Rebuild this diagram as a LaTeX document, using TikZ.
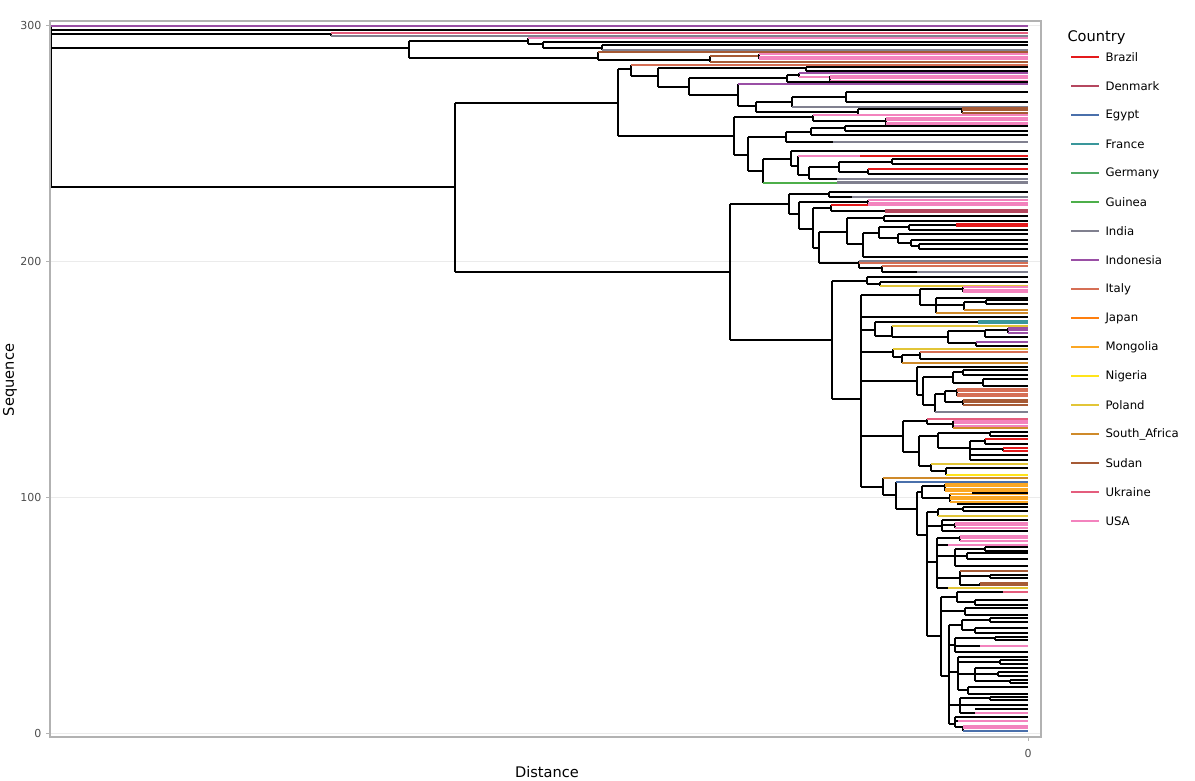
\documentclass[tikz,border=0pt]{standalone}
\usepackage{fontspec}
\setmainfont{DejaVu Sans}

\definecolor{cBrazil}{HTML}{E41A1C}
\definecolor{cDenmark}{HTML}{B5475F}
\definecolor{cEgypt}{HTML}{4A70AB}
\definecolor{cFrance}{HTML}{3A979B}
\definecolor{cGermany}{HTML}{4FA862}
\definecolor{cGuinea}{HTML}{4DAF4A}
\definecolor{cIndia}{HTML}{80808F}
\definecolor{cIndonesia}{HTML}{9A4FA5}
\definecolor{cItaly}{HTML}{D66F55}
\definecolor{cJapan}{HTML}{FF7F0E}
\definecolor{cMongolia}{HTML}{FBA724}
\definecolor{cNigeria}{HTML}{FFE41A}
\definecolor{cPoland}{HTML}{E2C537}
\definecolor{cSouthAfrica}{HTML}{CF8A2A}
\definecolor{cSudan}{HTML}{A65A35}
\definecolor{cUkraine}{HTML}{E45D7D}
\definecolor{cUSA}{HTML}{F383BE}
\definecolor{axisgray}{HTML}{4D4D4D}

\tikzset{
  br/.style={line width=2pt, draw=black},
  tipc/.style={line width=2pt},
  grid/.style={draw=black!8, line width=0.6pt},
  tick/.style={font=\fontsize{11}{13}\selectfont, text=axisgray},
  legtext/.style={anchor=west, font=\fontsize{11.7}{14}\selectfont}
}

% tree pieces, all in pixel units (y rounded to whole pixels)
\newcommand{\vln}[3]{\draw[br] (#1,{round(#2)}) -- (#1,{round(#3)});}
\newcommand{\hln}[4][black]{\draw[br,draw=#1] (#2,{round(#4)}) -- (#3,{round(#4)});}
\newcommand{\lfn}[3][black]{\draw[br,tipc,draw=#1] (#2,{round(#3)}) -- (1028,{round(#3)});}
\newcommand{\bnd}[4]{%
  \draw[br] (#1,{round(#2)}) -- (#1,{round(#2+(#3-1)*2.5)});
  \foreach \k in {1,...,#3}{\draw[br,tipc,draw=#4] (#1,{round(#2+(\k-1)*2.5)}) -- (1028,{round(#2+(\k-1)*2.5)});}}

\begin{document}
\begin{tikzpicture}[x=1pt,y=-1pt]
	\useasboundingbox (0,0) rectangle (1195,781);

	% panel
	\draw[grid] (50,261) -- (1041,261);
	\draw[grid] (50,497) -- (1041,497);
	\draw[grid] (50,733) -- (1041,733);
	\draw[grid] (50,25) -- (1041,25);

	% root and top leaves
	\vln{51}{26}{187}
	\lfn[cIndonesia]{51}{26}
	\lfn{51}{29.5}
	\hln{51}{331}{34}
	\vln{331}{33}{36}
	\lfn[cUkraine]{331}{33}
	\lfn[cIndia]{331}{36}

	% clade at 290
	\hln{51}{409}{47.5}
	\vln{409}{41}{57.5}
	\hln{409}{528}{41}
	\vln{528}{37.5}{44}
	\lfn[cUSA]{528}{38}
	\hln{528}{543}{44}
	\vln{543}{41.5}{47.5}
	\lfn{543}{41.5}
	\hln{543}{602}{47.5}
	\vln{602}{45}{49.5}
	\lfn{602}{45}
	\lfn[cIndia]{602}{49.5}
	\hln{409}{598}{57.5}
	\vln{598}{52}{60}
	\lfn[cSudan]{598}{52}
	\hln{598}{710}{60}
	\vln{710}{56}{62}
	\hln[cSudan]{710}{759}{56}
	\bnd{759}{54}{3}{cUSA}
	\lfn[cSudan]{710}{62}

	% main split
	\hln{51}{455}{187}
	\vln{455}{103}{272}

	% upper clade
	\hln{455}{618}{103}
	\vln{618}{69}{136}
	\hln{618}{631}{69}
	\vln{631}{64.5}{76}
	\lfn[cItaly]{631}{64.5}
	\hln{631}{658}{76}
	\vln{658}{68}{86.7}
	\hln{658}{806}{68}
	\vln{806}{66.5}{70.5}
	\lfn{806}{66.5}
	\lfn{806}{70.5}
	\hln{658}{689}{86.7}
	\vln{689}{78.3}{95}
	\hln{689}{787}{78.3}
	\vln{787}{75}{81.5}
	\hln{787}{799}{75}
	\vln{799}{73}{77}
	\lfn[cIndonesia]{799}{73}
	\hln[cUSA]{799}{830}{77}
	\bnd{830}{75.5}{3}{cUSA}
	\lfn{787}{81.5}
	\hln{689}{738}{95}
	\vln{738}{84.3}{106}
	\lfn[cIndonesia]{738}{84.3}
	\hln{738}{756}{106}
	\vln{756}{101.7}{111.7}
	\hln{756}{792}{101.7}
	\vln{792}{97.3}{106.7}
	\hln{792}{846}{97.3}
	\vln{846}{92.3}{101.7}
	\lfn{846}{92.3}
	\lfn{846}{101.7}
	\lfn[cIndia]{792}{106.7}
	\hln{756}{858}{111.7}
	\vln{858}{109}{114.5}
	\hln{858}{962}{109}
	\bnd{962}{107.5}{3}{cSudan}
	\lfn[cSudan]{858}{114.5}
	\hln{618}{734}{136}
	\vln{734}{117}{155}
	\hln{734}{813}{117}
	\vln{813}{114.5}{121}
	\lfn[cUSA]{813}{114.5}
	\hln{813}{886}{121}
	\bnd{886}{117.5}{4}{cUSA}
	\hln{734}{748}{155}
	\vln{748}{137.3}{170.7}
	\hln{748}{786}{137.3}
	\vln{786}{131.7}{141.7}
	\hln{786}{811}{131.7}
	\vln{811}{128.3}{135}
	\hln{811}{845}{128.3}
	\vln{845}{126}{130.7}
	\lfn{845}{126}
	\lfn{845}{130.7}
	\lfn{811}{135}
	\hln{786}{833}{141.7}
	\lfn[cIndia]{833}{141.7}
	\hln{748}{763}{170.7}
	\vln{763}{158.7}{183.3}
	\hln{763}{791}{158.7}
	\vln{791}{150.7}{166}
	\lfn{791}{150.7}
	\hln{791}{798}{166}
	\vln{798}{156}{175}
	\hln[cUSA]{798}{860}{156}
	\lfn[cBrazil]{860}{156}
	\hln{798}{809}{175}
	\vln{809}{166.7}{179}
	\hln{809}{839}{166.7}
	\vln{839}{161.7}{171.7}
	\hln{839}{892}{161.7}
	\vln{892}{159.3}{164}
	\lfn{892}{159.3}
	\lfn{892}{164}
	\hln{839}{868}{171.7}
	\vln{868}{169}{174}
	\lfn[cBrazil]{868}{169}
	\lfn{868}{174}
	\hln{809}{837}{179}
	\lfn[cIndia]{837}{179}
	\hln[cGuinea]{763}{837}{183.3}
	\lfn[cIndia]{837}{181.5}
	\lfn[cIndia]{837}{183.3}

	% lower clade
	\hln{455}{730}{272}
	\vln{730}{204.3}{340.3}
	\hln{730}{789}{204.3}
	\vln{789}{194.3}{214.3}
	\hln{789}{829}{194.3}
	\vln{829}{192.3}{196.7}
	\lfn{829}{192.3}
	\hln{829}{852}{196.7}
	\lfn[cIndia]{852}{196.7}
	\hln{789}{799}{214.3}
	\vln{799}{201.7}{229.3}
	\hln{799}{868}{201.7}
	\bnd{868}{200}{3}{cUSA}
	\hln{799}{813}{229.3}
	\vln{813}{208}{248.3}
	\hln{813}{831}{208}
	\vln{831}{205}{211}
	\hln[cBrazil]{831}{868}{205}
	\hln{831}{885}{211}
	\bnd{885}{209.5}{2}{cDenmark}
	\hln{813}{819}{248.3}
	\vln{819}{231.7}{263.3}
	\hln{819}{847}{231.7}
	\vln{847}{218.3}{244.3}
	\hln{847}{884}{218.3}
	\vln{884}{216}{220.5}
	\lfn{884}{216}
	\lfn{884}{220.5}
	\hln{847}{863}{244.3}
	\vln{863}{232.7}{257.3}
	\hln{863}{879}{232.7}
	\vln{879}{227.3}{238.3}
	\hln{879}{909}{227.3}
	\vln{909}{224.7}{230}
	\hln{909}{956}{224.7}
	\bnd{956}{223.5}{2}{cBrazil}
	\lfn{909}{230}
	\hln{879}{898}{238.3}
	\vln{898}{234.3}{243}
	\lfn{898}{234.3}
	\hln{898}{911}{243}
	\vln{911}{239.5}{246}
	\lfn{911}{239.5}
	\hln{911}{919}{246}
	\vln{919}{244}{248.5}
	\lfn{919}{244}
	\lfn{919}{248.5}
	\lfn{863}{257.3}
	\hln{819}{859}{263.3}
	\vln{859}{261}{268.3}
	\lfn[cIndia]{859}{261}
	\lfn[cItaly]{859}{263.3}
	\hln{859}{882}{268.3}
	\vln{882}{266.3}{271.5}
	\lfn[cItaly]{882}{266.3}
	\hln{882}{917}{271.5}
	\lfn[cIndia]{917}{271.5}

	\hln{730}{832}{340.3}
	\vln{832}{280.7}{399.3}
	\hln{832}{867}{280.7}
	\vln{867}{276.7}{284}
	\lfn{867}{276.7}
	\hln{867}{880}{284}
	\vln{880}{282}{285.5}
	\lfn{880}{282}
	\lfn[cPoland]{880}{285.5}
	\hln{832}{861}{399.3}
	\vln{861}{295}{487}

	% 180-190
	\hln{861}{920}{295}
	\vln{920}{289.3}{305}
	\hln{920}{963}{289.3}
	\bnd{963}{287}{3}{cUSA}
	\hln{920}{936}{305}
	\vln{936}{297.5}{313}
	\lfn{936}{297.5}
	\hln{936}{964}{305}
	\vln{964}{302}{309.5}
	\hln{964}{986}{302}
	\vln{986}{300}{304}
	\lfn{986}{300}
	\lfn{986}{304}
	\lfn[cSouthAfrica]{964}{309.5}
	\lfn[cSouthAfrica]{936}{313}
	\lfn{861}{317}

	% 160-175
	\hln{861}{875}{330}
	\vln{875}{321.7}{336}
	\hln{875}{978}{321.7}
	\bnd{978}{320.5}{2}{cFrance}
	\hln{875}{892}{336}
	\vln{892}{326}{337}
	\lfn[cPoland]{892}{326}
	\hln{892}{948}{337}
	\vln{948}{331}{343}
	\hln{948}{985}{331}
	\vln{985}{329.5}{336.5}
	\hln{985}{1008}{329.5}
	\bnd{1008}{327.5}{3}{cIndonesia}
	\lfn{985}{336.5}
	\hln{948}{976}{343}
	\vln{976}{341.5}{346}
	\lfn[cIndonesia]{976}{341.5}
	\lfn{976}{346}

	\hln{861}{893}{352}
	\vln{893}{349}{356.5}
	\lfn[cPoland]{893}{349}
	\hln{893}{902}{356.5}
	\vln{902}{354.5}{363.3}
	\hln{902}{920}{354.5}
	\vln{920}{351.5}{358.5}
	\lfn[cItaly]{920}{351.5}
	\lfn{920}{358.5}
	\lfn[cSouthAfrica]{902}{363.3}

	% 130-150
	\hln{861}{917}{381}
	\vln{917}{367}{395}
	\lfn{917}{367}
	\hln{917}{923}{395}
	\vln{923}{377}{405}
	\hln{923}{953}{377}
	\vln{953}{372}{382.5}
	\hln{953}{963}{372}
	\vln{963}{370}{374.5}
	\lfn{963}{370}
	\lfn{963}{374.5}
	\hln{953}{983}{382.5}
	\vln{983}{379}{386}
	\lfn{983}{379}
	\lfn{983}{386}
	\hln{923}{935}{405}
	\vln{935}{394}{411.7}
	\hln{935}{945}{394}
	\vln{945}{391}{402}
	\hln{945}{957}{391}
	\bnd{957}{388.5}{4}{cItaly}
	\hln{945}{963}{402}
	\bnd{963}{399.5}{3}{cSudan}
	\lfn[cIndia]{935}{411.7}

	% 110-130
	\hln{861}{903}{436}
	\vln{903}{421}{452}
	\hln{903}{927}{421}
	\vln{927}{418.5}{424}
	\lfn[cUkraine]{927}{418.5}
	\hln{927}{953}{424}
	\bnd{953}{420.5}{3}{cUSA}
	\vln{953}{420.5}{428}
	\lfn[cSouthAfrica]{953}{428}
	\hln{903}{919}{452}
	\vln{919}{436}{466}
	\hln{919}{938}{436}
	\vln{938}{433}{448}
	\hln{938}{990}{433}
	\vln{990}{431.5}{435.5}
	\lfn{990}{431.5}
	\lfn{990}{435.5}
	\hln{938}{970}{448}
	\vln{970}{441}{460}
	\hln{970}{985}{441}
	\vln{985}{439}{443.5}
	\lfn[cBrazil]{985}{439}
	\lfn{985}{443.5}
	\hln{970}{1003}{449}
	\bnd{1003}{448}{2}{cBrazil}
	\lfn{970}{455}
	\lfn{970}{460}
	\hln{919}{931}{466}
	\vln{931}{464}{471}
	\lfn[cPoland]{931}{464}
	\hln{931}{946}{471}
	\vln{946}{468}{475}
	\lfn{946}{468}
	\lfn[cNigeria]{946}{475}

	% 0-105
	\hln{861}{883}{487}
	\vln{883}{478.3}{495}
	\lfn[cSouthAfrica]{883}{478.3}
	\hln{883}{896}{495}
	\vln{896}{481.7}{509.3}
	\lfn[cEgypt]{896}{481.7}
	\hln{896}{917}{509.3}
	\vln{917}{491.7}{535}
	\hln{917}{922}{491.7}
	\vln{922}{486}{498}
	\hln{922}{945}{486}
	\bnd{945}{483.5}{4}{cMongolia}
	\hln{922}{950}{498}
	\bnd{950}{494}{4}{cMongolia}
	\lfn{972}{492.5}
	\lfn{957}{503.5}

	\hln{917}{927}{535}
	\vln{927}{512}{636}
	\hln{927}{938}{512}
	\vln{938}{508.5}{516}
	\hln{938}{963}{508.5}
	\vln{963}{506.5}{511}
	\lfn{963}{507}
	\lfn{963}{511}
	\lfn[cPoland]{938}{516}
	\hln{927}{942}{526}
	\vln{942}{520}{531}
	\lfn{942}{520}
	\hln{942}{955}{525}
	\bnd{955}{522.5}{3}{cUSA}
	\lfn{942}{531}
	\hln{927}{937}{562}
	\vln{937}{538}{588}
	\hln{937}{960}{538}
	\bnd{960}{535.5}{3}{cUSA}
	\hln{937}{948}{544.5}
	\lfn[cUSA]{948}{544.5}
	\hln{937}{955}{556}
	\vln{955}{548.5}{566}
	\hln{955}{985}{548.5}
	\vln{985}{547}{550.5}
	\lfn{985}{547}
	\lfn{985}{550.5}
	\hln{955}{967}{556}
	\vln{967}{553}{559}
	\lfn{967}{553}
	\lfn{967}{559}
	\lfn{955}{566}
	\hln{937}{960}{578}
	\vln{960}{571}{585}
	\lfn[cSudan]{960}{571}
	\hln{960}{990}{576}
	\vln{990}{574.5}{578}
	\lfn{990}{574.5}
	\lfn{990}{578}
	\hln{960}{980}{585}
	\bnd{980}{582.5}{2}{cSudan}
	\hln{937}{948}{588}
	\lfn[cPoland]{948}{588}

	\hln{927}{941}{636}
	\vln{941}{597}{676}
	\hln{941}{957}{597}
	\vln{957}{592}{602}
	\hln{957}{1003}{592}
	\lfn[cUkraine]{1003}{592}
	\hln{957}{975}{602}
	\vln{975}{599.5}{604.5}
	\lfn{975}{599.5}
	\lfn{975}{604.5}
	\hln{941}{965}{611}
	\vln{965}{608}{614.5}
	\lfn{965}{608}
	\lfn{965}{614.5}
	\hln{941}{949}{676}
	\vln{949}{625}{724}
	\hln{949}{962}{625}
	\vln{962}{620}{630}
	\hln{962}{990}{620}
	\vln{990}{618}{622}
	\lfn{990}{618}
	\lfn{990}{622}
	\hln{962}{975}{630}
	\vln{975}{627.5}{632.5}
	\lfn{975}{627.5}
	\lfn{975}{632.5}
	\hln{949}{955}{645}
	\vln{955}{638}{652}
	\hln{955}{995}{638}
	\vln{995}{636.5}{640}
	\lfn{995}{636.5}
	\lfn{995}{640}
	\hln{955}{980}{646}
	\lfn[cUSA]{980}{646}
	\lfn{955}{652}
	\hln{949}{958}{672}
	\vln{958}{657}{690}
	\lfn{958}{657}
	\hln{958}{1000}{662}
	\vln{1000}{660}{664}
	\lfn{1000}{660}
	\lfn{1000}{664}
	\hln{958}{975}{674}
	\vln{975}{668}{681}
	\lfn{975}{668}
	\hln{975}{998}{674}
	\vln{998}{672}{676}
	\lfn{998}{672}
	\lfn{998}{676}
	\hln{975}{1010}{681}
	\vln{1010}{679.5}{683}
	\lfn{1010}{679.5}
	\lfn{1010}{683}
	\hln{958}{968}{690}
	\vln{968}{687}{694}
	\lfn{968}{687}
	\lfn{968}{694}
	\hln{949}{960}{705}
	\vln{960}{698}{713}
	\hln{960}{990}{698}
	\vln{990}{696.5}{700}
	\lfn{990}{696.5}
	\lfn{990}{700}
	\lfn{960}{705}
	\lfn{975}{709}
	\hln{960}{975}{713}
	\lfn[cUSA]{975}{713}
	\hln{949}{955}{724}
	\vln{955}{717}{727}
	\lfn{955}{717}
	\lfn[cUSA]{958}{720.5}
	\hln{955}{958}{720.5}
	\hln{955}{963}{727}
	\vln{963}{725.5}{731}
	\lfn[cUSA]{963}{725.5}
	\lfn[cUSA]{963}{728}
	\lfn[cEgypt]{963}{731}

	% frame, ticks and titles
	\draw[draw=black!30, line width=1.2pt] (50,21) rectangle (1041,737);
	\foreach \yv/\lab in {25/300, 261/200, 497/100, 733/0}{
		\draw[draw=black!30, line width=0.8pt] (46,\yv) -- (50,\yv);
		\node[tick, anchor=east] (ytick\lab) at (45,\yv) {\lab};
	}
	\draw[draw=black!30, line width=0.8pt] (1028,737) -- (1028,741);
	\node[tick] (xtick0) at (1028,753) {0};
	\node[font=\fontsize{14.6}{16}\selectfont] (xtitle) at (547,772) {Distance};
	\node[font=\fontsize{14.6}{16}\selectfont, rotate=90] (ytitle) at (10,380) {Sequence};

	% legend
	\node[legtext, font=\fontsize{14.6}{16}\selectfont] (legtitle) at (1064,38) {Country};
	\foreach \nm/\cl [count=\i from 0] in {Brazil/cBrazil, Denmark/cDenmark, Egypt/cEgypt,
		France/cFrance, Germany/cGermany, Guinea/cGuinea, India/cIndia, Indonesia/cIndonesia,
		Italy/cItaly, Japan/cJapan, Mongolia/cMongolia, Nigeria/cNigeria, Poland/cPoland,
		South\_Africa/cSouthAfrica, Sudan/cSudan, Ukraine/cUkraine, USA/cUSA}{
		\draw[draw=\cl, line width=1.8pt] (1071,{57+29*\i}) -- (1099,{57+29*\i});
		\node[legtext] (leg\i) at (1102,{57+29*\i}) {\nm};
	}
\end{tikzpicture}
\end{document}
